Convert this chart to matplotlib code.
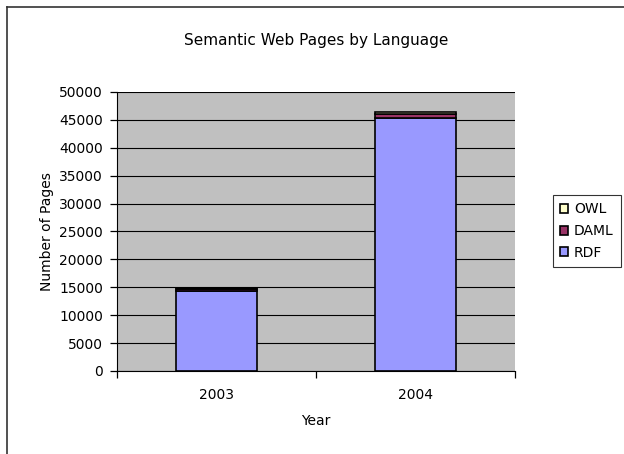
import matplotlib
matplotlib.use("Agg")
import matplotlib.pyplot as plt
import numpy as np
from matplotlib.lines import Line2D

years = ["2003", "2004"]
rdf = [14250, 45400]
daml = [500, 700]
owl = [200, 300]

colors = {"RDF": "#9999FF", "DAML": "#993366", "OWL": "#FFFFCC"}

plt.rcParams["font.family"] = ["Verdana", "DejaVu Sans"]

fig = plt.figure(figsize=(6.24, 4.54), dpi=100)
W, H = 624, 454
ax = fig.add_axes([117 / W, 1 - 371 / H, (515 - 117) / W, (371 - 92) / H])
ax.set_facecolor("#C0C0C0")

x = np.arange(len(years))
w = 0.41
b1 = ax.bar(x, rdf, w, color=colors["RDF"], edgecolor="black", linewidth=1.2, label="RDF")
b2 = ax.bar(x, daml, w, bottom=rdf, color=colors["DAML"], edgecolor="black", linewidth=1.2, label="DAML")
b3 = ax.bar(x, owl, w, bottom=np.add(rdf, daml), color=colors["OWL"], edgecolor="black", linewidth=1.2, label="OWL")

ax.set_xlim(-0.5, 1.5)
ax.set_ylim(0, 50000)
ax.set_yticks(range(0, 50001, 5000))
ax.yaxis.grid(True, color="black", linewidth=0.8)
ax.set_axisbelow(True)
ax.set_xticks([-0.5, 0.5, 1.5])
ax.set_xticklabels([])
ax.set_xticks(x, minor=True)
ax.set_xticklabels(years, minor=True)
ax.tick_params(axis="x", which="minor", length=0, pad=12, labelsize=10)
ax.tick_params(axis="x", which="major", length=5, width=0.9)
ax.tick_params(axis="y", length=5, width=0.9, labelsize=10, pad=5)
for s in ["top", "right"]:
    ax.spines[s].set_visible(False)
ax.spines["left"].set_color("black")
ax.spines["bottom"].set_color("black")

ax.set_xlabel("Year", fontsize=10, labelpad=9)
ax.set_ylabel("Number of Pages", fontsize=10, labelpad=4)
fig.text(316 / W, 1 - 40 / H, "Semantic Web Pages by Language", ha="center", va="center", fontsize=11)

leg = ax.legend(handles=[b3, b2, b1], labels=["OWL", "DAML", "RDF"],
                loc="center left", bbox_to_anchor=(553 / W, 1 - 231 / H),
                bbox_transform=fig.transFigure, fontsize=10, frameon=True,
                fancybox=False, edgecolor="black", handlelength=0.6,
                handleheight=0.6, handletextpad=0.4, borderpad=0.5,
                labelspacing=0.55, borderaxespad=0)
leg.get_frame().set_linewidth(0.8)

# outer chart border (left and top visible)
fig.add_artist(Line2D([7 / W, 7 / W], [0, 1 - 7 / H], transform=fig.transFigure, color="#333333", linewidth=1.2))
fig.add_artist(Line2D([7 / W, 1], [1 - 7 / H, 1 - 7 / H], transform=fig.transFigure, color="#333333", linewidth=1.2))

fig.savefig("out.png", dpi=100)
